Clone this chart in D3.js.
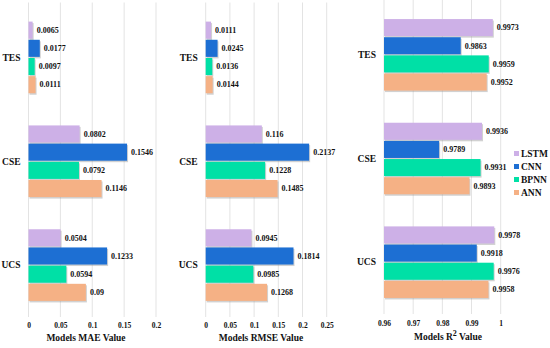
<!DOCTYPE html>
<html>
<head>
<meta charset="utf-8">
<script src="https://cdn.jsdelivr.net/npm/d3@7"></script>
<style>
  body { margin: 0; background: #fff; }
</style>
</head>
<body>
<div id="chart"></div>
<script>
// categories and models
let categories = ["TES", "CSE", "UCS"];
let models = ["LSTM", "CNN", "BPNN", "ANN"];
let colors = ["#cdb0e7", "#1d6fd3", "#00e0a6", "#f5b185"];

// values per category, in the order of models
let maeValues = [[0.0065, 0.0177, 0.0097, 0.0111], [0.0802, 0.1546, 0.0792, 0.1146], [0.0504, 0.1233, 0.0594, 0.09]];
let rmseValues = [[0.0111, 0.0245, 0.0136, 0.0144], [0.116, 0.2137, 0.1228, 0.1485], [0.0945, 0.1814, 0.0985, 0.1268]];
let r2Values = [[0.9973, 0.9863, 0.9959, 0.9952], [0.9936, 0.9789, 0.9931, 0.9893], [0.9978, 0.9918, 0.9976, 0.9958]];

// tick labels
let maeTicks = [0, 0.05, 0.1, 0.15, 0.2];
let rmseTicks = [0, 0.05, 0.1, 0.15, 0.2, 0.25];
let r2Ticks = [0.96, 0.97, 0.98, 0.99, 1];

let width = 550, height = 348;
let serif = "'Liberation Serif', 'Times New Roman', Times, serif";

let svg = d3.select('#chart')
    .append('svg')
    .attr('width', width)
    .attr('height', height)
    .attr('font-family', serif)
    .attr('font-weight', 'bold')
    .style('font-family', serif);

let panels = [
    { values: maeValues, ticks: maeTicks, domain: [0, 0.2], x: [28.5, 156], y: [5.5, 317], tickY: 328, title: "Models MAE Value", titleX: 86, titleY: 341 },
    { values: rmseValues, ticks: rmseTicks, domain: [0, 0.25], x: [205.7, 326.7], y: [5.5, 317], tickY: 328, title: "Models RMSE Value", titleX: 261, titleY: 341 },
    { values: r2Values, ticks: r2Ticks, domain: [0.96, 1], x: [384, 500.7], y: [3, 314], tickY: 326, title: "R2", titleX: 448, titleY: 340 }
];

panels.forEach(function (p) {
    let x = d3.scaleLinear().domain(p.domain).range(p.x);
    let y = d3.scaleBand().domain(categories).range(p.y).paddingInner(0.31).paddingOuter(0.155);
    let yi = d3.scaleBand().domain(models).range([0, y.bandwidth()]).paddingInner(0.06);

    let g = svg.append('g');

    // gridlines
    g.selectAll('.grid').data(p.ticks).enter().append('line')
        .attr('x1', d => x(d)).attr('x2', d => x(d))
        .attr('y1', p.y[0] - 3).attr('y2', p.y[1])
        .attr('stroke', '#e3e3e3')
        .attr('stroke-width', 1);

    // x axis labels
    let axis = d3.axisBottom(x).tickValues(p.ticks).tickSize(0).tickFormat(d => String(+d.toFixed(2)));
    let ax = g.append('g')
        .attr('transform', 'translate(0,' + (p.tickY - 8) + ')')
        .call(axis)
        .attr('font-family', serif)
        .attr('font-size', 7.5);
    ax.select('.domain').remove();
    ax.selectAll('text').attr('fill', '#111');

    // category labels
    g.selectAll('.cat').data(categories).enter().append('text')
        .attr('x', p.x[0] - 8)
        .attr('y', d => y(d) + y.bandwidth() / 2)
        .attr('dy', '0.35em')
        .attr('text-anchor', 'end')
        .attr('font-size', 9.5)
        .attr('fill', '#111')
        .text(d => d);

    categories.forEach(function (c, ci) {
        let cg = g.append('g').attr('transform', 'translate(0,' + y(c) + ')');
        models.forEach(function (m, mi) {
            let v = p.values[ci][mi];
            // shadow
            cg.append('rect')
                .attr('x', x(p.domain[0]) + 1)
                .attr('y', yi(m) + 1.5)
                .attr('width', x(v) - x(p.domain[0]))
                .attr('height', yi.bandwidth())
                .attr('fill', '#9a9a9a')
                .attr('opacity', 0.45);
            cg.append('rect')
                .attr('x', x(p.domain[0]))
                .attr('y', yi(m))
                .attr('width', x(v) - x(p.domain[0]))
                .attr('height', yi.bandwidth())
                .attr('fill', colors[mi]);
            cg.append('text')
                .attr('x', x(v) + 4)
                .attr('y', yi(m) + yi.bandwidth() / 2)
                .attr('dy', '0.35em')
                .attr('font-size', 8)
                .attr('fill', '#111')
                .text(String(v));
        });
    });

    // axis title
    let t = g.append('text')
        .attr('x', p.titleX)
        .attr('y', p.titleY)
        .attr('text-anchor', 'middle')
        .attr('font-size', 9.5)
        .attr('fill', '#111');
    if (p.title === "R2") {
        t.append('tspan').text("Models R");
        t.append('tspan').attr('dy', -4).attr('font-size', 8).text("2");
        t.append('tspan').attr('dy', 4).text(" Value");
    } else {
        t.text(p.title);
    }
});

// legend
let legend = svg.append('g').attr('transform', 'translate(514,154)');
models.forEach(function (m, i) {
    legend.append('rect')
        .attr('x', 0).attr('y', i * 13 - 3)
        .attr('width', 5).attr('height', 5)
        .attr('fill', colors[i]);
    legend.append('text')
        .attr('x', 7).attr('y', i * 13)
        .attr('dy', '0.35em')
        .attr('font-size', 9.5)
        .attr('fill', '#111')
        .text(m);
});
</script>
</body>
</html>
